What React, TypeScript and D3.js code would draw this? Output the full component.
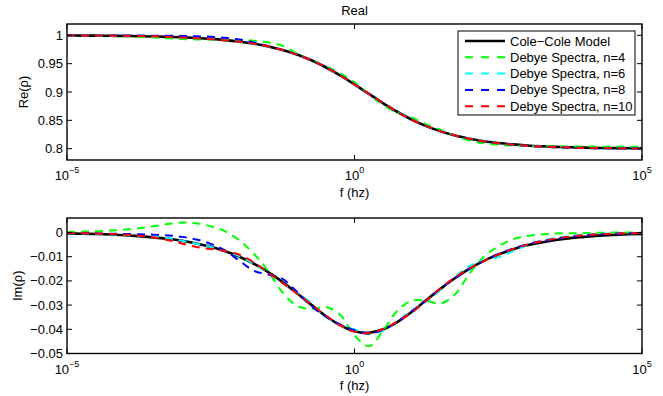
import React from 'react';
import * as d3 from 'd3';

// log10 of frequency (Hz) at which curves were read
const logFreq = [-5, -4.75, -4.5, -4.25, -4, -3.75, -3.5, -3.25, -3, -2.75, -2.5, -2.25, -2, -1.75, -1.5, -1.25, -1, -0.75, -0.5, -0.25, 0, 0.25, 0.5, 0.75, 1, 1.25, 1.5, 1.75, 2, 2.25, 2.5, 2.75, 3, 3.25, 3.5, 3.75, 4, 4.25, 4.5, 4.75, 5];

const reCole = [0.9997, 0.9995, 0.9994, 0.9992, 0.9989, 0.9985, 0.998, 0.9973, 0.9965, 0.9953, 0.9937, 0.9916, 0.9888, 0.9852, 0.9804, 0.9741, 0.9661, 0.956, 0.9437, 0.9294, 0.9134, 0.8966, 0.8801, 0.8647, 0.8511, 0.8397, 0.8305, 0.8232, 0.8176, 0.8132, 0.81, 0.8075, 0.8056, 0.8042, 0.8032, 0.8024, 0.8018, 0.8013, 0.801, 0.8008, 0.8006];
const reN4 = [1.0, 0.9998, 0.9995, 0.9991, 0.9985, 0.9976, 0.9963, 0.9948, 0.9935, 0.9928, 0.9926, 0.9925, 0.992, 0.9905, 0.9875, 0.9815, 0.968, 0.9565, 0.9455, 0.933, 0.917, 0.896, 0.877, 0.864, 0.8545, 0.843, 0.833, 0.8225, 0.8145, 0.8095, 0.8068, 0.8055, 0.8047, 0.8042, 0.804, 0.8038, 0.8037, 0.8036, 0.8036, 0.8035, 0.8035];
const reN6 = [0.9999, 0.9998, 0.9997, 0.9995, 0.9993, 0.999, 0.9985, 0.9978, 0.9968, 0.9955, 0.9938, 0.9916, 0.9887, 0.985, 0.9802, 0.9742, 0.9663, 0.9562, 0.9436, 0.9291, 0.9133, 0.8968, 0.8804, 0.865, 0.8512, 0.8395, 0.8302, 0.8233, 0.8181, 0.8135, 0.8097, 0.8068, 0.8048, 0.8034, 0.8024, 0.8017, 0.8012, 0.8008, 0.8006, 0.8004, 0.8003];
const reN8 = [1.0, 0.9999, 0.9999, 0.9998, 0.9997, 0.9996, 0.9994, 0.9992, 0.9989, 0.9984, 0.9974, 0.9957, 0.9925, 0.9874, 0.981, 0.974, 0.9658, 0.9558, 0.9438, 0.9296, 0.9135, 0.8965, 0.88, 0.8648, 0.8512, 0.8396, 0.8304, 0.823, 0.8173, 0.8128, 0.8095, 0.807, 0.8051, 0.8036, 0.8025, 0.8017, 0.8012, 0.8008, 0.8006, 0.8004, 0.8003];
const reN10 = [0.9999, 0.9998, 0.9997, 0.9995, 0.9992, 0.9988, 0.9982, 0.9975, 0.9963, 0.995, 0.9933, 0.9913, 0.9888, 0.9853, 0.9806, 0.974, 0.966, 0.9561, 0.9438, 0.9293, 0.9133, 0.8967, 0.8802, 0.8646, 0.851, 0.8398, 0.8306, 0.8231, 0.8175, 0.813, 0.8097, 0.8071, 0.8051, 0.8037, 0.8027, 0.8019, 0.8013, 0.8009, 0.8006, 0.8004, 0.8003];

const imCole = [-0.0004, -0.0005, -0.0006, -0.0008, -0.0011, -0.0015, -0.002, -0.0026, -0.0034, -0.0045, -0.0059, -0.0077, -0.01, -0.0129, -0.0164, -0.0205, -0.0251, -0.0299, -0.0345, -0.0383, -0.0408, -0.0414, -0.04, -0.0369, -0.0327, -0.0279, -0.0232, -0.0188, -0.0149, -0.0117, -0.0091, -0.007, -0.0053, -0.0041, -0.0031, -0.0023, -0.0018, -0.0013, -0.001, -0.0007, -0.0006];
const imN4 = [0.0002, 0.0003, 0.0005, 0.0008, 0.0012, 0.0018, 0.0026, 0.0035, 0.0041, 0.0038, 0.0026, 0.0005, -0.0033, -0.0088, -0.016, -0.0248, -0.0303, -0.0316, -0.0308, -0.034, -0.0425, -0.047, -0.0405, -0.0322, -0.0282, -0.0282, -0.0293, -0.0255, -0.017, -0.01, -0.0057, -0.0028, -0.0014, -0.0008, -0.0004, -0.0003, -0.0002, -0.0001, 0, 0, 0];
const imN6 = [-0.0003, -0.0004, -0.0005, -0.0007, -0.001, -0.0013, -0.0017, -0.0024, -0.0034, -0.0046, -0.006, -0.0075, -0.0098, -0.013, -0.0168, -0.021, -0.0248, -0.0292, -0.0348, -0.0385, -0.04, -0.042, -0.0405, -0.0366, -0.0322, -0.0285, -0.0236, -0.0182, -0.0138, -0.0115, -0.0102, -0.0078, -0.0052, -0.0034, -0.0022, -0.0014, -0.0009, -0.0006, -0.0004, -0.0003, -0.0002];
const imN8 = [-0.0002, -0.0003, -0.0004, -0.0005, -0.0006, -0.0007, -0.0009, -0.0012, -0.0018, -0.0029, -0.0047, -0.0075, -0.0117, -0.0158, -0.0174, -0.0192, -0.0245, -0.0304, -0.0348, -0.038, -0.0404, -0.0418, -0.0401, -0.0368, -0.0325, -0.028, -0.0231, -0.0188, -0.015, -0.0117, -0.009, -0.0067, -0.0049, -0.0036, -0.0026, -0.0018, -0.0012, -0.0008, -0.0005, -0.0003, -0.0002];
const imN10 = [-0.0002, -0.0003, -0.0004, -0.0006, -0.0009, -0.0013, -0.002, -0.0031, -0.0045, -0.006, -0.0068, -0.0076, -0.0092, -0.0124, -0.0166, -0.0209, -0.0252, -0.0297, -0.0343, -0.0384, -0.041, -0.0416, -0.0399, -0.0367, -0.0329, -0.0282, -0.023, -0.0185, -0.0148, -0.0118, -0.0092, -0.0069, -0.005, -0.0036, -0.0025, -0.0017, -0.0011, -0.0007, -0.0005, -0.0003, -0.0002];

const seriesNames = ['Cole\u2212Cole Model', 'Debye Spectra, n=4', 'Debye Spectra, n=6', 'Debye Spectra, n=8', 'Debye Spectra, n=10'];
const seriesColors = ['#000000', '#00ff00', '#00ffff', '#0000ff', '#ff0000'];
const reSeries = [reCole, reN4, reN6, reN8, reN10];
const imSeries = [imCole, imN4, imN6, imN8, imN10];

const xTickExps = [-5, 0, 5];
const reTicks = [0.8, 0.85, 0.9, 0.95, 1];
const imTicks = [-0.05, -0.04, -0.03, -0.02, -0.01, 0];

const W = 663;
const H = 396;
const FONT = '"Liberation Sans", Arial, Helvetica, sans-serif';
const FS = 13;

const xScale = d3.scaleLog().domain([1e-5, 1e5]).range([67, 642]);

function fmt(v: number) {
  if (v === 0) return '0';
  const s = String(+v.toFixed(4));
  return s.replace('-', '\u2212');
}

function Panel(props: {
  id: string; y0: number; y1: number; domain: [number, number]; ticks: number[];
  series: number[][]; ylabel: string; ylabelX: number; title?: string; legend?: boolean;
}) {
  const { id, y0, y1, domain, ticks, series, ylabel, ylabelX, title, legend } = props;
  const x0 = xScale.range()[0];
  const x1 = xScale.range()[1];
  const yScale = d3.scaleLinear().domain(domain).range([y1, y0]);
  const line = d3.line<number>()
    .x((_, i) => xScale(Math.pow(10, logFreq[i])))
    .y((v) => yScale(v))
    .curve(d3.curveCatmullRom.alpha(0.5));
  const tl = 5;
  const cy = (y0 + y1) / 2;
  return (
    <g>
      <defs>
        <clipPath id={id}>
          <rect x={x0} y={y0} width={x1 - x0} height={y1 - y0} />
        </clipPath>
      </defs>
      {title && (
        <text x={(x0 + x1) / 2} y={15} textAnchor="middle" fontSize={FS} fontFamily={FONT}>{title}</text>
      )}
      <g clipPath={`url(#${id})`}>
        {series.map((s, k) => (
          <path key={k} d={line(s) || ''} fill="none" stroke={seriesColors[k]}
            strokeWidth={k === 0 ? 2.6 : 2} strokeDasharray={k === 0 ? undefined : '8,6'} />
        ))}
      </g>
      {ticks.map((t) => (
        <g key={t}>
          <line x1={x0} x2={x0 + tl} y1={yScale(t)} y2={yScale(t)} stroke="#000" strokeWidth={1} />
          <line x1={x1} x2={x1 - tl} y1={yScale(t)} y2={yScale(t)} stroke="#000" strokeWidth={1} />
          <text x={x0 - 4} y={yScale(t)} dy="0.35em" textAnchor="end" fontSize={FS} fontFamily={FONT}>{fmt(t)}</text>
        </g>
      ))}
      {xTickExps.map((e) => {
        const x = xScale(Math.pow(10, e));
        return (
          <g key={e}>
            <line x1={x} x2={x} y1={y1} y2={y1 - tl} stroke="#000" strokeWidth={1} />
            <line x1={x} x2={x} y1={y0} y2={y0 + tl} stroke="#000" strokeWidth={1} />
            <text x={x} y={y1 + 20} textAnchor="middle" fontSize={FS} fontFamily={FONT}>
              <tspan>10</tspan>
              <tspan fontSize={9} dy={-7}>{String(e).replace('-', '\u2212')}</tspan>
            </text>
          </g>
        );
      })}
      <rect x={x0} y={y0} width={x1 - x0} height={y1 - y0} fill="none" stroke="#000" strokeWidth={1.4} />
      <text x={(x0 + x1) / 2} y={y1 + 36.5} textAnchor="middle" fontSize={FS} fontFamily={FONT}>f (hz)</text>
      <text transform={`translate(${ylabelX},${cy}) rotate(-90)`} textAnchor="middle" dy="0.35em" fontSize={FS} fontFamily={FONT}>{ylabel}</text>
      {legend && (
        <g>
          <rect x={458} y={31} width={177} height={84} fill="#fff" stroke="#000" strokeWidth={1} />
          {seriesNames.map((n, k) => {
            const ly = 41 + k * 16.3;
            return (
              <g key={n}>
                <line x1={465} x2={505} y1={ly} y2={ly} stroke={seriesColors[k]}
                  strokeWidth={k === 0 ? 2.6 : 2} strokeDasharray={k === 0 ? undefined : '8,8'} />
                <text x={510} y={ly} dy="0.35em" fontSize={FS} fontFamily={FONT}>{n}</text>
              </g>
            );
          })}
        </g>
      )}
    </g>
  );
}

export default function App() {
  return (
    <svg width={W} height={H} style={{ position: 'absolute', left: 0, top: 0, background: '#fff' }}>
      <rect x={0} y={0} width={W} height={H} fill="#fff" />
      <Panel id="clipTop" y0={24} y1={160} domain={[0.78, 1.02]} ticks={reTicks} series={reSeries}
        ylabel={'Re(\u03c1)'} ylabelX={23} title="Real" legend />
      <Panel id="clipBot" y0={218} y1={353.5} domain={[-0.05, 0.006]} ticks={imTicks} series={imSeries}
        ylabel={'Im(\u03c1)'} ylabelX={17} />
    </svg>
  );
}
